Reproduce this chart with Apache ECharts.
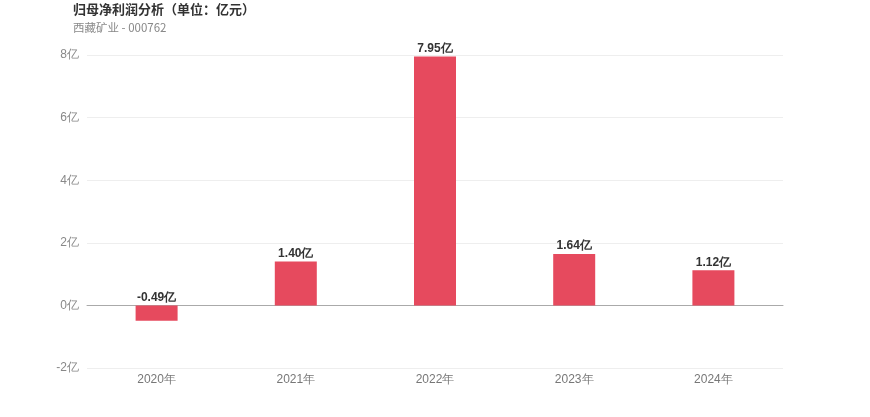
<!DOCTYPE html>
<html><head><meta charset="utf-8">
<script src="https://cdn.jsdelivr.net/npm/echarts@6/dist/echarts.min.js"></script>
<style>html,body{margin:0;padding:0;background:#fff}#c{width:870px;height:417px}</style>
</head><body><div id="c"></div>
<script>
const categories = ['2020年','2021年','2022年','2023年','2024年'];
const values = [-0.49, 1.40, 7.95, 1.64, 1.12];
const titleText = '归母净利润分析（单位：亿元）';
const subText = '西藏矿业 - 000762';
const chart = echarts.init(document.getElementById('c'));
chart.setOption({
  animation:false,
  title:{text:titleText, subtext:subText, left:68, top:-2,
    textStyle:{fontSize:13,fontWeight:'bold',color:'#333',fontFamily:'Noto Sans CJK SC'},
    subtextStyle:{fontSize:11.5,color:'#888',fontFamily:'Noto Sans CJK SC'}, itemGap:6},
  grid:{left:87,right:87,top:55,bottom:49},
  xAxis:{type:'category',data:categories,
    axisLine:{onZero:true,lineStyle:{color:'#aaa'}},axisTick:{show:false},
    axisLabel:{color:'#777',fontSize:12,margin:6}},
  yAxis:{type:'value',min:-2,max:8,interval:2,
    axisLabel:{color:'#888',fontSize:12,formatter:v=>v+'亿'},
    splitLine:{lineStyle:{color:'#eee'}},axisLine:{show:false},axisTick:{show:false}},
  series:[{type:'bar',data:values,barWidth:42,
    itemStyle:{color:'#e64a5e'},
    label:{show:true,position:'top',distance:2,color:'#333',fontWeight:'bold',fontSize:12,
      formatter:p=>p.value.toFixed(2)+'亿'}}]
});
</script></body></html>
